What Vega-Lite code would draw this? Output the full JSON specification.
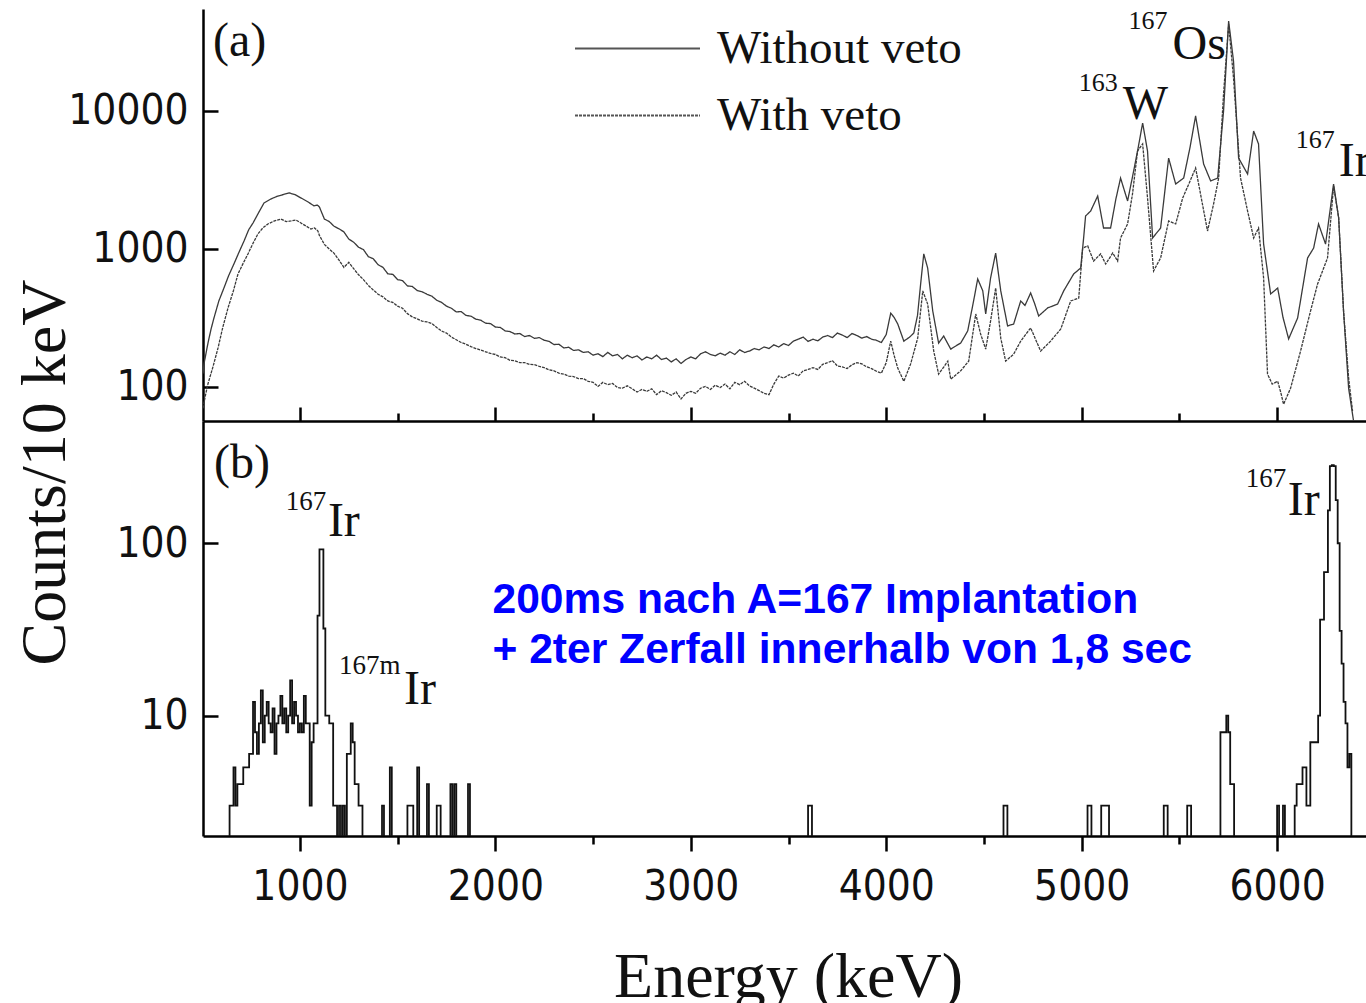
{
  "$schema": "https://vega.github.io/schema/vega-lite/v6.json",
  "background": "white",
  "autosize": {"type": "pad"},
  "padding": {"left": 12, "top": 7, "right": 0, "bottom": 0},
  "spacing": 0,
  "bounds": "flush",
  "config": {
    "view": {"stroke": null},
    "axis": {"domainColor": "#000", "domainWidth": 2.5, "tickColor": "#000", "tickWidth": 2.5, "grid": false, "labelColor": "#111", "labelFont": "DejaVu Sans Condensed, Liberation Sans Narrow, sans-serif", "labelFontSize": 42, "labelOverlap": false}
  },
  "datasets": {
    "a": [
      {"E":504,"c":125,"s":"Without veto"},{"E":509,"c":147,"s":"Without veto"},{"E":530,"c":210,"s":"Without veto"},{"E":545,"c":262,"s":"Without veto"},{"E":560,"c":316,"s":"Without veto"},{"E":585,"c":420,"s":"Without veto"},{"E":611,"c":521,"s":"Without veto"},{"E":635,"c":640,"s":"Without veto"},{"E":662,"c":778,"s":"Without veto"},{"E":690,"c":960,"s":"Without veto"},{"E":714,"c":1143,"s":"Without veto"},{"E":738,"c":1380,"s":"Without veto"},{"E":760,"c":1543,"s":"Without veto"},{"E":790,"c":1850,"s":"Without veto"},{"E":816,"c":2153,"s":"Without veto"},{"E":850,"c":2300,"s":"Without veto"},{"E":887,"c":2420,"s":"Without veto"},{"E":915,"c":2480,"s":"Without veto"},{"E":944,"c":2550,"s":"Without veto"},{"E":975,"c":2480,"s":"Without veto"},{"E":1005,"c":2344,"s":"Without veto"},{"E":1040,"c":2200,"s":"Without veto"},{"E":1072,"c":2052,"s":"Without veto"},{"E":1090,"c":2080,"s":"Without veto"},
      {"E":1100,"c":2010,"s":"Without veto"},{"E":1125,"c":1650,"s":"Without veto"},{"E":1150,"c":1580,"s":"Without veto"},{"E":1175,"c":1460,"s":"Without veto"},{"E":1200,"c":1400,"s":"Without veto"},{"E":1225,"c":1330,"s":"Without veto"},{"E":1250,"c":1180,"s":"Without veto"},{"E":1275,"c":1120,"s":"Without veto"},{"E":1300,"c":1030,"s":"Without veto"},{"E":1325,"c":990,"s":"Without veto"},{"E":1350,"c":880,"s":"Without veto"},{"E":1375,"c":850,"s":"Without veto"},{"E":1400,"c":770,"s":"Without veto"},{"E":1425,"c":735,"s":"Without veto"},{"E":1450,"c":660,"s":"Without veto"},{"E":1475,"c":655,"s":"Without veto"},{"E":1500,"c":600,"s":"Without veto"},{"E":1525,"c":590,"s":"Without veto"},{"E":1550,"c":540,"s":"Without veto"},{"E":1575,"c":535,"s":"Without veto"},{"E":1600,"c":500,"s":"Without veto"},{"E":1625,"c":490,"s":"Without veto"},{"E":1650,"c":470,"s":"Without veto"},{"E":1675,"c":455,"s":"Without veto"},{"E":1700,"c":425,"s":"Without veto"},{"E":1725,"c":410,"s":"Without veto"},{"E":1750,"c":385,"s":"Without veto"},{"E":1775,"c":372,"s":"Without veto"},{"E":1800,"c":350,"s":"Without veto"},{"E":1825,"c":352,"s":"Without veto"},{"E":1850,"c":330,"s":"Without veto"},{"E":1875,"c":326,"s":"Without veto"},{"E":1900,"c":310,"s":"Without veto"},{"E":1925,"c":305,"s":"Without veto"},{"E":1950,"c":290,"s":"Without veto"},{"E":1975,"c":288,"s":"Without veto"},{"E":2000,"c":272,"s":"Without veto"},{"E":2025,"c":270,"s":"Without veto"},{"E":2050,"c":255,"s":"Without veto"},{"E":2075,"c":252,"s":"Without veto"},{"E":2100,"c":242,"s":"Without veto"},{"E":2125,"c":244,"s":"Without veto"},{"E":2150,"c":232,"s":"Without veto"},{"E":2175,"c":236,"s":"Without veto"},{"E":2200,"c":225,"s":"Without veto"},{"E":2225,"c":228,"s":"Without veto"},{"E":2250,"c":218,"s":"Without veto"},{"E":2275,"c":214,"s":"Without veto"},{"E":2300,"c":203,"s":"Without veto"},{"E":2325,"c":204,"s":"Without veto"},{"E":2350,"c":192,"s":"Without veto"},{"E":2375,"c":194,"s":"Without veto"},{"E":2400,"c":184,"s":"Without veto"},{"E":2425,"c":186,"s":"Without veto"},{"E":2450,"c":178,"s":"Without veto"},{"E":2475,"c":180,"s":"Without veto"},{"E":2500,"c":170,"s":"Without veto"},{"E":2525,"c":174,"s":"Without veto"},{"E":2550,"c":166,"s":"Without veto"},{"E":2575,"c":178,"s":"Without veto"},{"E":2600,"c":168,"s":"Without veto"},{"E":2625,"c":172,"s":"Without veto"},{"E":2650,"c":160,"s":"Without veto"},{"E":2675,"c":170,"s":"Without veto"},{"E":2700,"c":163,"s":"Without veto"},{"E":2725,"c":168,"s":"Without veto"},{"E":2750,"c":157,"s":"Without veto"},{"E":2775,"c":165,"s":"Without veto"},{"E":2800,"c":160,"s":"Without veto"},{"E":2825,"c":170,"s":"Without veto"},{"E":2850,"c":158,"s":"Without veto"},{"E":2875,"c":162,"s":"Without veto"},{"E":2900,"c":152,"s":"Without veto"},{"E":2925,"c":160,"s":"Without veto"},{"E":2950,"c":148,"s":"Without veto"},{"E":2975,"c":158,"s":"Without veto"},{"E":3000,"c":165,"s":"Without veto"},{"E":3025,"c":160,"s":"Without veto"},{"E":3050,"c":174,"s":"Without veto"},{"E":3075,"c":180,"s":"Without veto"},{"E":3100,"c":172,"s":"Without veto"},{"E":3125,"c":168,"s":"Without veto"},{"E":3150,"c":176,"s":"Without veto"},{"E":3175,"c":170,"s":"Without veto"},{"E":3200,"c":180,"s":"Without veto"},{"E":3225,"c":172,"s":"Without veto"},{"E":3250,"c":186,"s":"Without veto"},{"E":3275,"c":178,"s":"Without veto"},{"E":3300,"c":182,"s":"Without veto"},{"E":3325,"c":190,"s":"Without veto"},{"E":3350,"c":186,"s":"Without veto"},{"E":3375,"c":195,"s":"Without veto"},{"E":3400,"c":190,"s":"Without veto"},{"E":3425,"c":202,"s":"Without veto"},{"E":3450,"c":195,"s":"Without veto"},{"E":3475,"c":206,"s":"Without veto"},{"E":3500,"c":200,"s":"Without veto"},{"E":3525,"c":215,"s":"Without veto"},{"E":3550,"c":222,"s":"Without veto"},{"E":3575,"c":230,"s":"Without veto"},{"E":3600,"c":214,"s":"Without veto"},{"E":3625,"c":222,"s":"Without veto"},{"E":3650,"c":216,"s":"Without veto"},{"E":3675,"c":230,"s":"Without veto"},{"E":3700,"c":236,"s":"Without veto"},{"E":3725,"c":228,"s":"Without veto"},{"E":3750,"c":246,"s":"Without veto"},{"E":3775,"c":238,"s":"Without veto"},{"E":3800,"c":228,"s":"Without veto"},{"E":3825,"c":244,"s":"Without veto"},{"E":3850,"c":236,"s":"Without veto"},{"E":3875,"c":226,"s":"Without veto"},{"E":3900,"c":232,"s":"Without veto"},{"E":3925,"c":222,"s":"Without veto"},{"E":3950,"c":218,"s":"Without veto"},{"E":3975,"c":210,"s":"Without veto"},
      {"E":4000,"c":240,"s":"Without veto"},{"E":4023,"c":343,"s":"Without veto"},{"E":4040,"c":320,"s":"Without veto"},{"E":4059,"c":286,"s":"Without veto"},{"E":4090,"c":215,"s":"Without veto"},{"E":4120,"c":230,"s":"Without veto"},{"E":4141,"c":246,"s":"Without veto"},{"E":4160,"c":330,"s":"Without veto"},{"E":4176,"c":557,"s":"Without veto"},{"E":4192,"c":921,"s":"Without veto"},{"E":4212,"c":728,"s":"Without veto"},{"E":4238,"c":355,"s":"Without veto"},{"E":4268,"c":208,"s":"Without veto"},{"E":4294,"c":234,"s":"Without veto"},{"E":4330,"c":188,"s":"Without veto"},{"E":4360,"c":200,"s":"Without veto"},{"E":4381,"c":208,"s":"Without veto"},{"E":4417,"c":255,"s":"Without veto"},{"E":4447,"c":420,"s":"Without veto"},{"E":4468,"c":607,"s":"Without veto"},{"E":4494,"c":497,"s":"Without veto"},{"E":4509,"c":338,"s":"Without veto"},{"E":4534,"c":617,"s":"Without veto"},{"E":4560,"c":935,"s":"Without veto"},{"E":4586,"c":497,"s":"Without veto"},{"E":4621,"c":277,"s":"Without veto"},{"E":4652,"c":286,"s":"Without veto"},{"E":4688,"c":420,"s":"Without veto"},{"E":4710,"c":390,"s":"Without veto"},{"E":4739,"c":480,"s":"Without veto"},{"E":4760,"c":400,"s":"Without veto"},{"E":4780,"c":327,"s":"Without veto"},{"E":4826,"c":374,"s":"Without veto"},{"E":4877,"c":399,"s":"Without veto"},{"E":4908,"c":497,"s":"Without veto"},{"E":4959,"c":659,"s":"Without veto"},{"E":4995,"c":728,"s":"Without veto"},{"E":5010,"c":1200,"s":"Without veto"},{"E":5020,"c":1734,"s":"Without veto"},{"E":5046,"c":1884,"s":"Without veto"},{"E":5082,"c":2420,"s":"Without veto"},{"E":5112,"c":1419,"s":"Without veto"},{"E":5148,"c":1419,"s":"Without veto"},{"E":5175,"c":2300,"s":"Without veto"},{"E":5199,"c":3266,"s":"Without veto"},{"E":5235,"c":2228,"s":"Without veto"},{"E":5266,"c":3673,"s":"Without veto"},{"E":5290,"c":5500,"s":"Without veto"},{"E":5312,"c":8185,"s":"Without veto"},{"E":5337,"c":5128,"s":"Without veto"},{"E":5363,"c":1202,"s":"Without veto"},{"E":5404,"c":1419,"s":"Without veto"},{"E":5445,"c":4560,"s":"Without veto"},{"E":5481,"c":2958,"s":"Without veto"},{"E":5522,"c":3266,"s":"Without veto"},{"E":5555,"c":5500,"s":"Without veto"},{"E":5583,"c":9204,"s":"Without veto"},{"E":5624,"c":4130,"s":"Without veto"},{"E":5660,"c":3112,"s":"Without veto"},{"E":5696,"c":3266,"s":"Without veto"},{"E":5726,"c":10000,"s":"Without veto"},{"E":5752,"c":44870,"s":"Without veto"},{"E":5777,"c":23010,"s":"Without veto"},{"E":5803,"c":4560,"s":"Without veto"},{"E":5849,"c":3491,"s":"Without veto"},{"E":5880,"c":7161,"s":"Without veto"},{"E":5905,"c":5768,"s":"Without veto"},{"E":5931,"c":1086,"s":"Without veto"},{"E":5967,"c":472,"s":"Without veto"},{"E":6003,"c":521,"s":"Without veto"},{"E":6030,"c":320,"s":"Without veto"},{"E":6059,"c":223,"s":"Without veto"},{"E":6105,"c":316,"s":"Without veto"},{"E":6156,"c":861,"s":"Without veto"},{"E":6187,"c":1016,"s":"Without veto"},{"E":6212,"c":1518,"s":"Without veto"},{"E":6248,"c":1086,"s":"Without veto"},{"E":6289,"c":2958,"s":"Without veto"},{"E":6315,"c":1679,"s":"Without veto"},{"E":6340,"c":355,"s":"Without veto"},{"E":6366,"c":98,"s":"Without veto"},{"E":6391,"c":57,"s":"Without veto"},
      {"E":504,"c":70,"s":"With veto"},{"E":515,"c":85,"s":"With veto"},{"E":529,"c":105,"s":"With veto"},{"E":555,"c":140,"s":"With veto"},{"E":581,"c":192,"s":"With veto"},{"E":605,"c":270,"s":"With veto"},{"E":632,"c":374,"s":"With veto"},{"E":660,"c":500,"s":"With veto"},{"E":683,"c":659,"s":"With veto"},{"E":710,"c":790,"s":"With veto"},{"E":734,"c":921,"s":"With veto"},{"E":760,"c":1100,"s":"With veto"},{"E":785,"c":1285,"s":"With veto"},{"E":810,"c":1420,"s":"With veto"},{"E":836,"c":1518,"s":"With veto"},{"E":870,"c":1600,"s":"With veto"},{"E":903,"c":1648,"s":"With veto"},{"E":930,"c":1580,"s":"With veto"},{"E":954,"c":1596,"s":"With veto"},{"E":980,"c":1620,"s":"With veto"},{"E":1005,"c":1543,"s":"With veto"},{"E":1030,"c":1470,"s":"With veto"},{"E":1056,"c":1395,"s":"With veto"},{"E":1075,"c":1420,"s":"With veto"},{"E":1092,"c":1350,"s":"With veto"},
      {"E":1100,"c":1250,"s":"With veto"},{"E":1125,"c":1080,"s":"With veto"},{"E":1150,"c":1000,"s":"With veto"},{"E":1175,"c":930,"s":"With veto"},{"E":1200,"c":830,"s":"With veto"},{"E":1225,"c":735,"s":"With veto"},{"E":1250,"c":800,"s":"With veto"},{"E":1275,"c":720,"s":"With veto"},{"E":1300,"c":650,"s":"With veto"},{"E":1325,"c":600,"s":"With veto"},{"E":1350,"c":545,"s":"With veto"},{"E":1375,"c":505,"s":"With veto"},{"E":1400,"c":470,"s":"With veto"},{"E":1425,"c":450,"s":"With veto"},{"E":1450,"c":420,"s":"With veto"},{"E":1475,"c":410,"s":"With veto"},{"E":1500,"c":385,"s":"With veto"},{"E":1525,"c":372,"s":"With veto"},{"E":1550,"c":340,"s":"With veto"},{"E":1575,"c":322,"s":"With veto"},{"E":1600,"c":312,"s":"With veto"},{"E":1625,"c":300,"s":"With veto"},{"E":1650,"c":296,"s":"With veto"},{"E":1675,"c":288,"s":"With veto"},{"E":1700,"c":270,"s":"With veto"},{"E":1725,"c":254,"s":"With veto"},{"E":1750,"c":246,"s":"With veto"},{"E":1775,"c":230,"s":"With veto"},{"E":1800,"c":220,"s":"With veto"},{"E":1825,"c":210,"s":"With veto"},{"E":1850,"c":204,"s":"With veto"},{"E":1875,"c":196,"s":"With veto"},{"E":1900,"c":190,"s":"With veto"},{"E":1925,"c":185,"s":"With veto"},{"E":1950,"c":180,"s":"With veto"},{"E":1975,"c":175,"s":"With veto"},{"E":2000,"c":172,"s":"With veto"},{"E":2025,"c":165,"s":"With veto"},{"E":2050,"c":163,"s":"With veto"},{"E":2075,"c":156,"s":"With veto"},{"E":2100,"c":155,"s":"With veto"},{"E":2125,"c":150,"s":"With veto"},{"E":2150,"c":150,"s":"With veto"},{"E":2175,"c":146,"s":"With veto"},{"E":2200,"c":145,"s":"With veto"},{"E":2225,"c":141,"s":"With veto"},{"E":2250,"c":138,"s":"With veto"},{"E":2275,"c":133,"s":"With veto"},{"E":2300,"c":131,"s":"With veto"},{"E":2325,"c":126,"s":"With veto"},{"E":2350,"c":124,"s":"With veto"},{"E":2375,"c":120,"s":"With veto"},{"E":2400,"c":119,"s":"With veto"},{"E":2425,"c":115,"s":"With veto"},{"E":2450,"c":115,"s":"With veto"},{"E":2475,"c":110,"s":"With veto"},{"E":2500,"c":108,"s":"With veto"},{"E":2525,"c":101,"s":"With veto"},{"E":2550,"c":108,"s":"With veto"},{"E":2575,"c":104,"s":"With veto"},{"E":2600,"c":106,"s":"With veto"},{"E":2625,"c":99,"s":"With veto"},{"E":2650,"c":98,"s":"With veto"},{"E":2675,"c":102,"s":"With veto"},{"E":2700,"c":97,"s":"With veto"},{"E":2725,"c":92,"s":"With veto"},{"E":2750,"c":96,"s":"With veto"},{"E":2775,"c":93,"s":"With veto"},{"E":2800,"c":97,"s":"With veto"},{"E":2825,"c":88,"s":"With veto"},{"E":2850,"c":94,"s":"With veto"},{"E":2875,"c":91,"s":"With veto"},{"E":2900,"c":87,"s":"With veto"},{"E":2925,"c":92,"s":"With veto"},{"E":2950,"c":82,"s":"With veto"},{"E":2975,"c":90,"s":"With veto"},{"E":3000,"c":93,"s":"With veto"},{"E":3025,"c":90,"s":"With veto"},{"E":3050,"c":98,"s":"With veto"},{"E":3075,"c":101,"s":"With veto"},{"E":3100,"c":96,"s":"With veto"},{"E":3125,"c":103,"s":"With veto"},{"E":3150,"c":99,"s":"With veto"},{"E":3175,"c":105,"s":"With veto"},{"E":3200,"c":97,"s":"With veto"},{"E":3225,"c":108,"s":"With veto"},{"E":3250,"c":104,"s":"With veto"},{"E":3275,"c":110,"s":"With veto"},{"E":3300,"c":102,"s":"With veto"},{"E":3325,"c":98,"s":"With veto"},{"E":3350,"c":94,"s":"With veto"},{"E":3375,"c":90,"s":"With veto"},{"E":3400,"c":88,"s":"With veto"},{"E":3425,"c":105,"s":"With veto"},{"E":3450,"c":120,"s":"With veto"},{"E":3475,"c":116,"s":"With veto"},{"E":3500,"c":122,"s":"With veto"},{"E":3525,"c":126,"s":"With veto"},{"E":3550,"c":120,"s":"With veto"},{"E":3575,"c":131,"s":"With veto"},{"E":3600,"c":134,"s":"With veto"},{"E":3625,"c":138,"s":"With veto"},{"E":3650,"c":134,"s":"With veto"},{"E":3675,"c":146,"s":"With veto"},{"E":3700,"c":150,"s":"With veto"},{"E":3725,"c":155,"s":"With veto"},{"E":3750,"c":142,"s":"With veto"},{"E":3775,"c":140,"s":"With veto"},{"E":3800,"c":136,"s":"With veto"},{"E":3825,"c":145,"s":"With veto"},{"E":3850,"c":150,"s":"With veto"},{"E":3875,"c":147,"s":"With veto"},{"E":3900,"c":140,"s":"With veto"},{"E":3925,"c":136,"s":"With veto"},{"E":3950,"c":130,"s":"With veto"},{"E":3975,"c":126,"s":"With veto"},
      {"E":4000,"c":150,"s":"With veto"},{"E":4023,"c":215,"s":"With veto"},{"E":4040,"c":170,"s":"With veto"},{"E":4059,"c":137,"s":"With veto"},{"E":4090,"c":110,"s":"With veto"},{"E":4125,"c":147,"s":"With veto"},{"E":4161,"c":226,"s":"With veto"},{"E":4187,"c":497,"s":"With veto"},{"E":4212,"c":399,"s":"With veto"},{"E":4243,"c":182,"s":"With veto"},{"E":4268,"c":124,"s":"With veto"},{"E":4295,"c":140,"s":"With veto"},{"E":4315,"c":154,"s":"With veto"},{"E":4330,"c":114,"s":"With veto"},{"E":4381,"c":131,"s":"With veto"},{"E":4422,"c":154,"s":"With veto"},{"E":4458,"c":338,"s":"With veto"},{"E":4483,"c":242,"s":"With veto"},{"E":4509,"c":188,"s":"With veto"},{"E":4534,"c":301,"s":"With veto"},{"E":4560,"c":521,"s":"With veto"},{"E":4586,"c":226,"s":"With veto"},{"E":4611,"c":154,"s":"With veto"},{"E":4652,"c":173,"s":"With veto"},{"E":4688,"c":215,"s":"With veto"},{"E":4739,"c":268,"s":"With veto"},{"E":4790,"c":182,"s":"With veto"},{"E":4841,"c":215,"s":"With veto"},{"E":4893,"c":263,"s":"With veto"},{"E":4944,"c":420,"s":"With veto"},{"E":4985,"c":441,"s":"With veto"},{"E":5005,"c":1016,"s":"With veto"},{"E":5031,"c":1052,"s":"With veto"},{"E":5061,"c":818,"s":"With veto"},{"E":5097,"c":921,"s":"With veto"},{"E":5123,"c":778,"s":"With veto"},{"E":5159,"c":935,"s":"With veto"},{"E":5184,"c":818,"s":"With veto"},{"E":5199,"c":1202,"s":"With veto"},{"E":5235,"c":1518,"s":"With veto"},{"E":5260,"c":2500,"s":"With veto"},{"E":5286,"c":5128,"s":"With veto"},{"E":5312,"c":5768,"s":"With veto"},{"E":5337,"c":2344,"s":"With veto"},{"E":5368,"c":693,"s":"With veto"},{"E":5404,"c":861,"s":"With veto"},{"E":5445,"c":1596,"s":"With veto"},{"E":5481,"c":1518,"s":"With veto"},{"E":5517,"c":2344,"s":"With veto"},{"E":5550,"c":3000,"s":"With veto"},{"E":5583,"c":3864,"s":"With veto"},{"E":5644,"c":1350,"s":"With veto"},{"E":5675,"c":2118,"s":"With veto"},{"E":5701,"c":3266,"s":"With veto"},{"E":5726,"c":13280,"s":"With veto"},{"E":5752,"c":42650,"s":"With veto"},{"E":5777,"c":17330,"s":"With veto"},{"E":5813,"c":3266,"s":"With veto"},{"E":5849,"c":1884,"s":"With veto"},{"E":5880,"c":1202,"s":"With veto"},{"E":5905,"c":1419,"s":"With veto"},{"E":5931,"c":617,"s":"With veto"},{"E":5951,"c":124,"s":"With veto"},{"E":5975,"c":105,"s":"With veto"},{"E":6003,"c":110,"s":"With veto"},{"E":6020,"c":90,"s":"With veto"},{"E":6033,"c":75,"s":"With veto"},{"E":6050,"c":85,"s":"With veto"},{"E":6069,"c":98,"s":"With veto"},{"E":6120,"c":182,"s":"With veto"},{"E":6171,"c":355,"s":"With veto"},{"E":6207,"c":557,"s":"With veto"},{"E":6258,"c":861,"s":"With veto"},{"E":6289,"c":2850,"s":"With veto"},{"E":6315,"c":1679,"s":"With veto"},{"E":6340,"c":355,"s":"With veto"},{"E":6366,"c":116,"s":"With veto"},{"E":6386,"c":67,"s":"With veto"}
    ],
    "a_sup": [
      {"E":5240,"c":39300,"t":"167"},{"E":4985,"c":13960,"t":"163"},{"E":6095,"c":5400,"t":"167"}
    ],
    "a_main": [
      {"E":5465,"c":23800,"t":"Os"},{"E":5210,"c":8750,"t":"W"},{"E":6315,"c":3380,"t":"Ir"},{"E":555,"c":25060,"t":"(a)"}
    ],
    "b": [
      {"E":504,"c":1},{"E":630,"c":1},{"E":640,"c":3},{"E":650,"c":3},{"E":660,"c":5},{"E":670,"c":3},{"E":680,"c":4},{"E":690,"c":4},{"E":700,"c":4},{"E":710,"c":5},{"E":720,"c":5},{"E":730,"c":5},{"E":740,"c":6},{"E":750,"c":6},{"E":760,"c":12},{"E":770,"c":8},{"E":780,"c":6},{"E":790,"c":9},{"E":800,"c":14},{"E":810,"c":7},{"E":820,"c":10},{"E":830,"c":12},{"E":840,"c":9},{"E":850,"c":8},{"E":860,"c":11},{"E":870,"c":6},{"E":880,"c":9},{"E":890,"c":10},{"E":900,"c":13},{"E":910,"c":9},{"E":920,"c":11},{"E":930,"c":8},{"E":940,"c":10},{"E":950,"c":16},{"E":960,"c":9},{"E":970,"c":12},{"E":980,"c":10},{"E":990,"c":8},{"E":1000,"c":9},{"E":1010,"c":8},{"E":1020,"c":13},{"E":1030,"c":9},{"E":1040,"c":9},{"E":1050,"c":3},{"E":1060,"c":7},{"E":1070,"c":9},{"E":1080,"c":9},{"E":1090,"c":38},{"E":1100,"c":92},{"E":1110,"c":92},{"E":1120,"c":32},{"E":1130,"c":10},{"E":1140,"c":10},{"E":1150,"c":9},{"E":1160,"c":9},{"E":1170,"c":3},{"E":1180,"c":3},{"E":1190,"c":1},{"E":1200,"c":3},{"E":1210,"c":1},{"E":1220,"c":3},{"E":1230,"c":1},{"E":1240,"c":6},{"E":1250,"c":6},{"E":1260,"c":9},{"E":1270,"c":7},{"E":1280,"c":4},{"E":1290,"c":4},{"E":1300,"c":3},{"E":1310,"c":3},{"E":1320,"c":1},{"E":1420,"c":3},{"E":1430,"c":1},{"E":1460,"c":5},{"E":1470,"c":1},{"E":1550,"c":3},{"E":1560,"c":3},{"E":1570,"c":3},{"E":1580,"c":1},{"E":1600,"c":5},{"E":1610,"c":1},{"E":1650,"c":4},{"E":1660,"c":1},{"E":1700,"c":3},{"E":1710,"c":3},{"E":1720,"c":1},{"E":1770,"c":4},{"E":1780,"c":1},{"E":1790,"c":4},{"E":1800,"c":1},{"E":1860,"c":4},{"E":1870,"c":1},{"E":3600,"c":3},{"E":3610,"c":3},{"E":3620,"c":1},{"E":4600,"c":3},{"E":4610,"c":3},{"E":4620,"c":1},{"E":5030,"c":3},{"E":5040,"c":3},{"E":5050,"c":1},{"E":5100,"c":3},{"E":5110,"c":3},{"E":5120,"c":3},{"E":5130,"c":3},{"E":5140,"c":1},{"E":5420,"c":3},{"E":5430,"c":3},{"E":5440,"c":1},{"E":5540,"c":3},{"E":5550,"c":3},{"E":5560,"c":1},{"E":5710,"c":8},{"E":5720,"c":8},{"E":5730,"c":8},{"E":5740,"c":10},{"E":5750,"c":8},{"E":5760,"c":4},{"E":5770,"c":4},{"E":5780,"c":1},{"E":6000,"c":3},{"E":6010,"c":1},{"E":6030,"c":3},{"E":6040,"c":1},{"E":6090,"c":3},{"E":6100,"c":4},{"E":6110,"c":4},{"E":6120,"c":4},{"E":6130,"c":5},{"E":6140,"c":5},{"E":6150,"c":3},{"E":6160,"c":3},{"E":6170,"c":7},{"E":6180,"c":7},{"E":6190,"c":7},{"E":6200,"c":7},{"E":6210,"c":10},{"E":6220,"c":36},{"E":6230,"c":36},{"E":6240,"c":68},{"E":6250,"c":68},{"E":6260,"c":155},{"E":6270,"c":280},{"E":6280,"c":284},{"E":6290,"c":280},{"E":6300,"c":178},{"E":6310,"c":100},{"E":6320,"c":31},{"E":6330,"c":20},{"E":6340,"c":12},{"E":6350,"c":9},{"E":6360,"c":5},{"E":6370,"c":6},{"E":6380,"c":1},{"E":6460,"c":1}
    ],
    "b_sup": [
      {"E":928,"c":156,"t":"167"},{"E":1200,"c":17.5,"t":"167m"},{"E":5839,"c":212,"t":"167"}
    ],
    "b_main": [
      {"E":1143,"c":110,"t":"Ir"},{"E":1532,"c":11.7,"t":"Ir"},{"E":6054,"c":146,"t":"Ir"},{"E":560,"c":239,"t":"(b)"}
    ],
    "b_note": [
      {"E":1985,"c":39.2,"t":"200ms nach A=167 Implantation"},{"E":1985,"c":20.1,"t":"+ 2ter Zerfall innerhalb von 1,8 sec"}
    ]
  },
  "vconcat": [
    {
      "width": 1164,
      "height": 412,
      "encoding": {
        "x": {"field": "E", "type": "quantitative", "scale": {"domain": [504, 6460], "nice": false, "zero": false},
          "axis": {"values": [1000,1500,2000,2500,3000,3500,4000,4500,5000,5500,6000], "labels": false, "title": null,
            "tickSize": {"condition": {"test": "datum.value % 1000 === 0", "value": -14}, "value": -8}}},
        "y": {"field": "c", "type": "quantitative", "scale": {"type": "log", "domain": [56.7, 54830], "nice": false},
          "axis": {"values": [100, 1000, 10000], "format": "d", "title": null, "tickSize": -15, "labelPadding": 30}}
      },
      "layer": [
        {
          "data": {"name": "a"},
          "mark": {"type": "line", "clip": true, "strokeWidth": 1.3, "color": "#3a3a3a"},
          "encoding": {
            "strokeDash": {"field": "s", "type": "nominal",
              "scale": {"domain": ["Without veto", "With veto"], "range": [[1, 0], [3, 1]]},
              "legend": {"title": null, "orient": "none", "legendX": 411, "legendY": 16, "padding": 0,
                "symbolType": "M-5,0H5", "symbolSize": 625, "symbolStrokeWidth": 2, "symbolStrokeColor": "#555", "symbolFillColor": "transparent",
                "labelFont": "Liberation Serif", "labelFontSize": 47, "labelColor": "#111", "labelOffset": 56, "labelLimit": 500, "rowPadding": 19}}
          }
        },
        {
          "data": {"name": "a_sup"},
          "mark": {"type": "text", "align": "left", "baseline": "alphabetic", "font": "Liberation Serif", "fontSize": 26, "color": "#111"},
          "encoding": {"text": {"field": "t"}}
        },
        {
          "data": {"name": "a_main"},
          "mark": {"type": "text", "align": "left", "baseline": "alphabetic", "font": "Liberation Serif", "fontSize": 48, "color": "#111"},
          "encoding": {"text": {"field": "t"}}
        }
      ]
    },
    {
      "width": 1164,
      "height": 415,
      "encoding": {
        "x": {"field": "E", "type": "quantitative", "scale": {"domain": [504, 6460], "nice": false, "zero": false},
          "axis": {"values": [1000,1500,2000,2500,3000,3500,4000,4500,5000,5500,6000], "format": "d",
            "labelExpr": "datum.value % 1000 === 0 ? datum.label : ''", "labelPadding": 15,
            "tickSize": {"condition": {"test": "datum.value % 1000 === 0", "value": 15}, "value": 8},
            "title": "Energy (keV)", "titleFont": "Liberation Serif", "titleFontSize": 64, "titleFontWeight": "normal", "titleColor": "#111",
            "titleX": 585, "titleY": 160, "titleBaseline": "alphabetic", "titleAlign": "center"}},
        "y": {"field": "c", "type": "quantitative", "scale": {"type": "log", "domain": [2.0, 512], "nice": false},
          "axis": {"values": [10, 100], "format": "d", "tickSize": -15, "labelPadding": 30,
            "title": "Counts/10 keV", "titleFont": "Liberation Serif", "titleFontSize": 64, "titleFontWeight": "normal", "titleColor": "#111",
            "titleAngle": 270, "titleX": -139, "titleY": 51, "titleBaseline": "alphabetic", "titleAlign": "center"}}
      },
      "layer": [
        {
          "data": {"name": "b"},
          "mark": {"type": "line", "interpolate": "step-after", "clip": true, "strokeWidth": 1.8, "color": "#111"}
        },
        {
          "data": {"name": "b_sup"},
          "mark": {"type": "text", "align": "left", "baseline": "alphabetic", "font": "Liberation Serif", "fontSize": 27, "color": "#111"},
          "encoding": {"text": {"field": "t"}}
        },
        {
          "data": {"name": "b_main"},
          "mark": {"type": "text", "align": "left", "baseline": "alphabetic", "font": "Liberation Serif", "fontSize": 48, "color": "#111"},
          "encoding": {"text": {"field": "t"}}
        },
        {
          "data": {"name": "b_note"},
          "mark": {"type": "text", "align": "left", "baseline": "alphabetic", "font": "Liberation Sans", "fontWeight": "bold", "fontSize": 42.6, "color": "#0000ff"},
          "encoding": {"text": {"field": "t"}}
        }
      ]
    }
  ],
  "resolve": {"scale": {"x": "independent", "y": "independent", "strokeDash": "independent"}, "legend": {"strokeDash": "independent"}}
}
